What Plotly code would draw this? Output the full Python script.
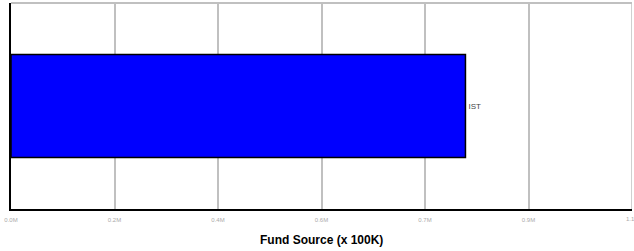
import plotly.graph_objects as go

categories = ["IST"]
values = [0.805]
tick_values = [0, 1.1/6, 2.2/6, 3.3/6, 4.4/6, 5.5/6, 1.1]
tick_labels = ["0.0M", "0.2M", "0.4M", "0.6M", "0.7M", "0.9M", "1.1M"]

fig = go.Figure(go.Bar(
    x=values, y=categories, orientation="h",
    marker=dict(color="#0000ff", line=dict(color="black", width=1.5)),
    text=categories, textposition="outside",
    textfont=dict(family="Arial, Liberation Sans", size=8, color="#444"),
    cliponaxis=False, width=0.5,
))

fig.update_layout(
    width=634, height=251,
    margin=dict(l=11, r=2, t=3, b=42),
    paper_bgcolor="white", plot_bgcolor="white",
    showlegend=False,
    font=dict(family="Arial, Liberation Sans"),
    xaxis=dict(
        range=[0, 1.1], tickvals=tick_values[:-1], ticktext=tick_labels[:-1],
        tickfont=dict(size=6, color="#aaa"), ticklabelstandoff=4,
        showgrid=True, gridcolor="#c0c0c0", gridwidth=1.5,
        showline=True, linecolor="black", linewidth=2,
        mirror=False, zeroline=False, ticks="", ticklen=0,
    ),
    yaxis=dict(
        showticklabels=False, showgrid=False, zeroline=False,
        showline=True, linecolor="black", linewidth=2, ticks="",
    ),
    shapes=[
        dict(type="line", xref="paper", yref="paper", x0=0, x1=1, y0=1, y1=1,
             line=dict(color="#c0c0c0", width=2)),
        dict(type="line", xref="x", yref="paper", x0=tick_values[-1], x1=tick_values[-1], y0=0, y1=1,
             line=dict(color="#c0c0c0", width=1.5)),
    ],
    annotations=[
        dict(text="<b>Fund Source (x 100K)</b>", xref="paper", yref="paper",
             x=0.5, y=0, yshift=-31, yanchor="middle", showarrow=False,
             font=dict(size=12, color="black")),
        dict(text=tick_labels[-1], xref="x", yref="paper", x=tick_values[-1], y=0,
             yshift=-10, yanchor="middle", xanchor="center", showarrow=False,
             font=dict(size=6, color="#aaa")),
    ],
)

fig.write_html("out.html", config={"displayModeBar": False},
               post_script="document.body.style.margin='0';document.body.style.overflow='hidden';")
